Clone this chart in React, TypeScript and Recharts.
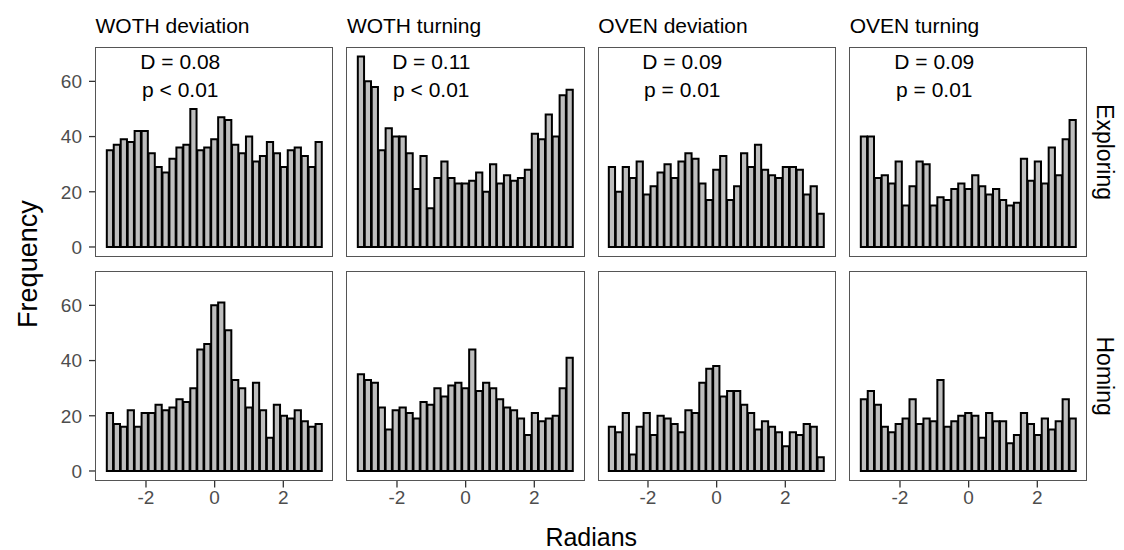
import React from 'react';
import { BarChart, Bar, XAxis, YAxis, ReferenceDot } from 'recharts';

// bin centres (radians) of the 31 histogram bins
const binCenters = [
  -3.04, -2.838, -2.635, -2.432, -2.23, -2.027, -1.824, -1.622, -1.419, -1.216, -1.013,
  -0.811, -0.608, -0.405, -0.203, 0, 0.203, 0.405, 0.608, 0.811, 1.013, 1.216, 1.419,
  1.622, 1.824, 2.027, 2.23, 2.432, 2.635, 2.838, 3.04,
];

const wothDeviationExploring = [35, 37, 39, 38, 42, 42, 34, 29, 27, 32, 36, 37, 50, 35, 36, 39, 47, 46, 37, 34, 40, 31, 33, 38, 34, 29, 35, 36, 33, 29, 38];
const wothTurningExploring = [69, 60, 58, 35, 43, 40, 40, 34, 21, 33, 14, 25, 31, 25, 23, 23, 24, 27, 20, 30, 23, 26, 24, 25, 28, 41, 39, 48, 40, 55, 57];
const ovenDeviationExploring = [29, 20, 29, 25, 31, 19, 22, 27, 30, 25, 31, 34, 32, 23, 17, 28, 33, 17, 22, 34, 29, 37, 28, 26, 25, 29, 29, 28, 19, 22, 12];
const ovenTurningExploring = [40, 40, 25, 26, 23, 31, 15, 22, 31, 30, 15, 18, 17, 21, 23, 21, 26, 22, 19, 21, 17, 15, 16, 32, 24, 31, 23, 36, 26, 39, 46];
const wothDeviationHoming = [21, 17, 16, 22, 16, 21, 21, 24, 22, 23, 26, 25, 30, 44, 46, 60, 61, 51, 33, 30, 23, 32, 22, 12, 24, 20, 19, 22, 18, 16, 17];
const wothTurningHoming = [35, 33, 32, 23, 15, 22, 23, 21, 19, 25, 24, 30, 27, 31, 32, 30, 44, 29, 32, 30, 26, 23, 22, 19, 13, 21, 18, 19, 20, 30, 41];
const ovenDeviationHoming = [16, 14, 21, 6, 16, 21, 13, 20, 19, 17, 14, 22, 21, 32, 37, 38, 27, 29, 29, 24, 21, 15, 18, 16, 14, 9, 14, 13, 17, 16, 5];
const ovenTurningHoming = [26, 29, 24, 16, 14, 17, 19, 26, 17, 19, 18, 33, 16, 18, 20, 21, 20, 12, 21, 18, 18, 10, 13, 21, 17, 13, 19, 15, 18, 26, 19];

const columnTitles = ['WOTH deviation', 'WOTH turning', 'OVEN deviation', 'OVEN turning'];
const rowTitles = ['Exploring', 'Homing'];
const statD = ['D = 0.08', 'D = 0.11', 'D = 0.09', 'D = 0.09'];
const statP = ['p < 0.01', 'p < 0.01', 'p = 0.01', 'p = 0.01'];
const xTicks = [-2, 0, 2];
const yTicks = [0, 20, 40, 60];

const seriesGrid = [
  [wothDeviationExploring, wothTurningExploring, ovenDeviationExploring, ovenTurningExploring],
  [wothDeviationHoming, wothTurningHoming, ovenDeviationHoming, ovenTurningHoming],
];

// layout
const FONT = '"Liberation Sans", Arial, sans-serif';
const PANEL_W = 237.3;
const PANEL_H = 209.5;
const COL_X = [95.5, 346.9, 598.3, 849.7];
const ROW_Y = [47.3, 271.4];
const Y_AXIS_W = 60;
const X_AXIS_H = 40;
const X_DOMAIN: [number, number] = [-3.456, 3.456];
const Y_DOMAIN: [number, number] = [-3.45, 72.45];
const BIN_W = 0.20268;
const BAR_PX = (BIN_W * PANEL_W) / (X_DOMAIN[1] - X_DOMAIN[0]);
const TICK_FONT = 19;
const ANNOT_FONT = 21;

function Panel({ row, col }: { row: number; col: number }) {
  const values = seriesGrid[row][col];
  const data = binCenters.map((x, i) => ({ x, n: values[i] }));
  const showY = col === 0;
  const showX = row === 1;
  const left = COL_X[col] - (showY ? Y_AXIS_W : 0);
  const width = PANEL_W + (showY ? Y_AXIS_W : 0);
  const height = PANEL_H + (showX ? X_AXIS_H : 0);
  return (
    <>
      <div style={{ position: 'absolute', left, top: ROW_Y[row] }}>
        <BarChart
          width={width}
          height={height}
          data={data}
          margin={{ top: 0, right: 0, bottom: 0, left: 0 }}
          barCategoryGap={0}
          barGap={0}
        >
          <XAxis
            dataKey="x"
            type="number"
            domain={X_DOMAIN}
            allowDataOverflow
            ticks={xTicks}
            interval={0}
            hide={!showX}
            height={X_AXIS_H}
            axisLine={false}
            tickSize={7}
            tickMargin={3}
            tickLine={{ stroke: '#333333', strokeWidth: 1.3 }}
            tick={{ fontSize: TICK_FONT, fill: '#4d4d4d', fontFamily: FONT }}
          />
          <YAxis
            type="number"
            domain={Y_DOMAIN}
            allowDataOverflow
            ticks={yTicks}
            interval={0}
            hide={!showY}
            width={Y_AXIS_W}
            axisLine={false}
            tickSize={7}
            tickMargin={7}
            tickLine={{ stroke: '#333333', strokeWidth: 1.3 }}
            tick={{ fontSize: TICK_FONT, fill: '#4d4d4d', fontFamily: FONT }}
          />
          <Bar
            dataKey="n"
            fill="#bebebe"
            stroke="#000000"
            strokeWidth={2}
            barSize={BAR_PX}
            isAnimationActive={false}
          />
          {row === 0 && (
            <ReferenceDot
              x={-1}
              y={67}
              r={0}
              fill="none"
              stroke="none"
              label={{ value: statD[col], position: 'center', fontSize: ANNOT_FONT, fill: '#000', fontFamily: FONT }}
            />
          )}
          {row === 0 && (
            <ReferenceDot
              x={-1}
              y={57}
              r={0}
              fill="none"
              stroke="none"
              label={{ value: statP[col], position: 'center', fontSize: ANNOT_FONT, fill: '#000', fontFamily: FONT }}
            />
          )}
        </BarChart>
      </div>
      <div
        style={{
          position: 'absolute',
          left: COL_X[col] - 0.5,
          top: ROW_Y[row] - 0.5,
          width: PANEL_W + 1,
          height: PANEL_H + 1,
          border: '1px solid #555555',
          boxSizing: 'border-box',
          pointerEvents: 'none',
        }}
      />
    </>
  );
}

export default function App() {
  const panels = [];
  for (let r = 0; r < 2; r++) for (let c = 0; c < 4; c++) panels.push(<Panel key={`${r}-${c}`} row={r} col={c} />);
  const midY = (ROW_Y[0] + ROW_Y[1] + PANEL_H) / 2;
  const midX = (COL_X[0] + COL_X[3] + PANEL_W) / 2;
  return (
    <div style={{ position: 'absolute', left: 0, top: 0, width: 1124, height: 550, background: '#fff', overflow: 'hidden', fontFamily: FONT }}>
      {panels}
      <svg width={1124} height={550} style={{ position: 'absolute', left: 0, top: 0, pointerEvents: 'none' }}>
        {columnTitles.map((t, c) => (
          <text key={t} x={COL_X[c]} y={33} fontSize={21} fill="#000" fontFamily={FONT}>
            {t}
          </text>
        ))}
        {rowTitles.map((t, r) => {
          const cy = ROW_Y[r] + PANEL_H / 2;
          return (
            <text
              key={t}
              x={1105}
              y={cy}
              fontSize={23}
              fill="#000"
              fontFamily={FONT}
              textAnchor="middle"
              dominantBaseline="central"
              transform={`rotate(90 1105 ${cy})`}
            >
              {t}
            </text>
          );
        })}
        <text
          x={28}
          y={midY}
          fontSize={27}
          fill="#000"
          fontFamily={FONT}
          textAnchor="middle"
          dominantBaseline="central"
          transform={`rotate(-90 28 ${midY})`}
        >
          Frequency
        </text>
        <text x={midX} y={537} fontSize={25} fill="#000" fontFamily={FONT} textAnchor="middle" dominantBaseline="central">
          Radians
        </text>
      </svg>
    </div>
  );
}
